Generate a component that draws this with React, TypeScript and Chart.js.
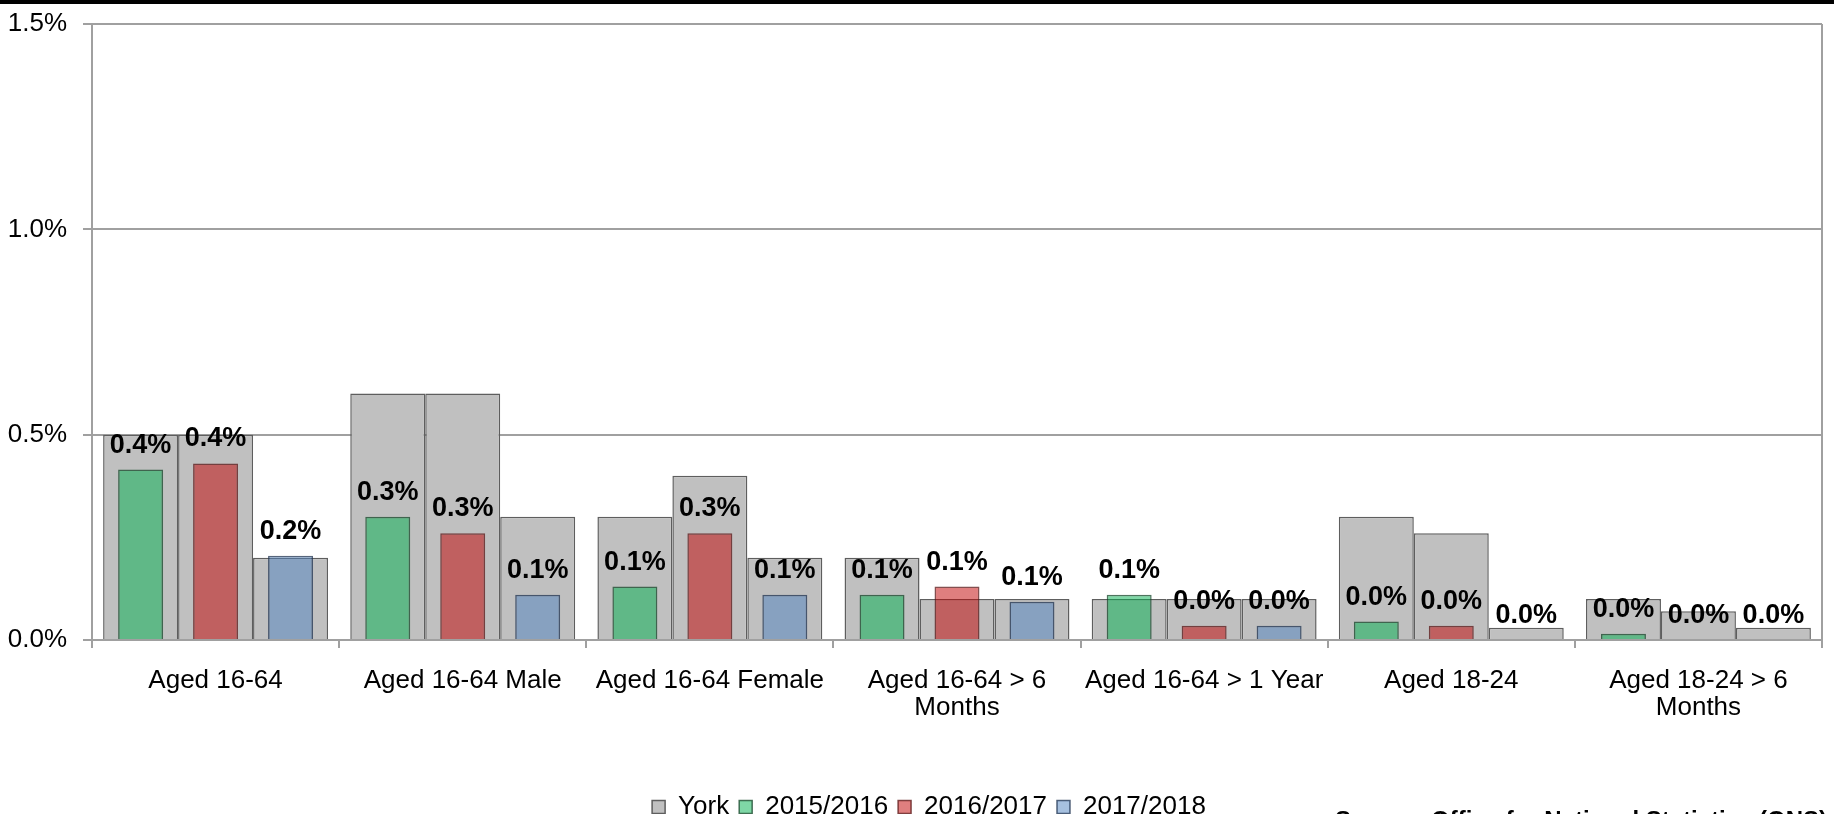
import React, { useEffect, useRef } from "react";
import { Chart, registerables } from "chart.js";

Chart.register(...registerables);

const categories: (string | string[])[] = [
  "Aged 16-64",
  "Aged 16-64 Male",
  "Aged 16-64 Female",
  ["Aged 16-64 > 6", "Months"],
  "Aged 16-64 > 1 Year",
  "Aged 18-24",
  ["Aged 18-24 > 6", "Months"],
];

// York comparison values (percent) for each year slot
const york2015 = [0.5, 0.6, 0.3, 0.2, 0.1, 0.3, 0.1];
const york2016 = [0.5, 0.6, 0.4, 0.1, 0.1, 0.26, 0.07];
const york2017 = [0.2, 0.3, 0.2, 0.1, 0.1, 0.03, 0.03];

// Area values (percent)
const s2015 = [0.415, 0.3, 0.13, 0.11, 0.11, 0.045, 0.015];
const s2016 = [0.43, 0.26, 0.26, 0.13, 0.035, 0.035, 0];
const s2017 = [0.205, 0.11, 0.11, 0.093, 0.035, 0, 0];

const yTicks = [0, 0.5, 1.0, 1.5];

const FONT = "'Liberation Sans', Arial, Helvetica, sans-serif";
const GRID = "#a0a0a0";
const W = 1834;
const H = 830;

export default function App() {
  const ref = useRef<HTMLCanvasElement | null>(null);

  useEffect(() => {
    if (!ref.current) return;

    const valueLabels = {
      id: "valueLabels",
      afterDatasetsDraw(chart: any) {
        const ctx = chart.ctx;
        ctx.save();
        ctx.font = `bold 27px ${FONT}`;
        ctx.fillStyle = "#000";
        ctx.textAlign = "center";
        ctx.textBaseline = "alphabetic";
        chart.data.datasets.forEach((ds: any, i: number) => {
          if (ds.label === "York") return;
          const meta = chart.getDatasetMeta(i);
          meta.data.forEach((el: any, j: number) => {
            const v = ds.data[j] as number;
            ctx.fillText(v.toFixed(1) + "%", el.x, el.y - 17);
          });
        });
        ctx.restore();
      },
    };

    const rightBorder = {
      id: "rightBorder",
      afterLayout(chart: any) {
        if (chart.legend) {
          chart.legend.left += 18;
          chart.legend.right += 18;
        }
      },
      afterDraw(chart: any) {
        const { ctx, chartArea } = chart;
        ctx.save();
        ctx.strokeStyle = GRID;
        ctx.lineWidth = 2;
        ctx.beginPath();
        ctx.moveTo(chartArea.right, chartArea.top);
        ctx.lineTo(chartArea.right, chartArea.bottom);
        ctx.stroke();
        ctx.restore();
      },
    };

    const colored = (label: string, data: number[], stack: string, bg: string, border: string) => ({
      label,
      data,
      stack,
      backgroundColor: bg,
      borderColor: border,
      borderWidth: 1.5,
      categoryPercentage: 0.91,
      barPercentage: 0.6,
    });
    const york = (data: number[], stack: string) => ({
      label: "York",
      data,
      stack,
      backgroundColor: "#c0c0c0",
      borderColor: "#5e5e5e",
      borderWidth: 1.5,
      categoryPercentage: 0.91,
      barPercentage: 1.0,
    });

    const chart = new Chart(ref.current, {
      type: "bar",
      data: {
        labels: categories,
        datasets: [
          colored("2015/2016", s2015, "s1", "rgba(0,176,78,0.5)", "rgba(20,70,40,0.75)"),
          colored("2016/2017", s2016, "s2", "rgba(192,0,0,0.5)", "rgba(90,20,20,0.75)"),
          colored("2017/2018", s2017, "s3", "rgba(78,130,192,0.5)", "rgba(30,50,80,0.75)"),
          york(york2015, "s1"),
          york(york2016, "s2"),
          york(york2017, "s3"),
        ] as any,
      },
      options: {
        responsive: false,
        animation: false,
        layout: { padding: { top: 24, right: 12, left: 0, bottom: 0 } },
        scales: {
          x: {
            type: "category",
            stacked: true,
            offset: true,
            grid: {
              display: true,
              drawOnChartArea: false,
              drawTicks: true,
              tickLength: 8,
              color: GRID,
              lineWidth: 2,
              offset: true,
            },
            border: { display: true, color: GRID, width: 2 },
            ticks: {
              color: "#000",
              font: { family: FONT, size: 26, lineHeight: 1.05 },
              padding: 19,
              maxRotation: 0,
              minRotation: 0,
              autoSkip: false,
            },
            afterFit: (scale: any) => {
              scale.height = 144;
            },
          },
          y: {
            stacked: false,
            min: 0,
            max: 1.5,
            afterBuildTicks: (scale: any) => {
              scale.ticks = yTicks.map((v) => ({ value: v }));
            },
            grid: {
              color: GRID,
              lineWidth: 2,
              drawTicks: true,
              tickLength: 9,
            },
            border: { display: true, color: GRID, width: 2 },
            ticks: {
              color: "#000",
              font: { family: FONT, size: 26 },
              padding: 16,
              callback: (v: any) => Number(v).toFixed(1) + "%",
            },
            afterFit: (scale: any) => {
              scale.width = 92;
              scale.paddingTop = 0;
              scale.paddingBottom = 0;
            },
          },
        },
        plugins: {
          legend: {
            position: "bottom",
            labels: {
              color: "#000",
              font: { family: FONT, size: 26 },
              boxWidth: 13,
              boxHeight: 13,
              padding: 10,
              filter: (item: any) => item.datasetIndex !== 4 && item.datasetIndex !== 5,
              sort: (a: any, b: any) => {
                const r = (i: number) => (i >= 3 ? -1 : i);
                return r(a.datasetIndex) - r(b.datasetIndex);
              },
            },
          },
          tooltip: { enabled: false },
          title: { display: false },
        },
      } as any,
      plugins: [valueLabels, rightBorder],
    });

    return () => chart.destroy();
  }, []);

  return (
    <div
      style={{
        position: "fixed",
        left: 0,
        top: 0,
        width: W,
        height: 814,
        overflow: "hidden",
        background: "#fff",
      }}
    >
      <canvas ref={ref} width={W} height={H} style={{ display: "block", width: W, height: H }} />
      <div
        style={{
          position: "absolute",
          left: 0,
          top: 0,
          width: W,
          height: 4,
          background: "#000",
        }}
      />
      <div
        style={{
          position: "absolute",
          left: 1335,
          top: 806,
          fontFamily: FONT,
          fontWeight: "bold",
          fontSize: 24,
          whiteSpace: "nowrap",
          color: "#000",
        }}
      >
        Source: Office for National Statistics (ONS)
      </div>
    </div>
  );
}
